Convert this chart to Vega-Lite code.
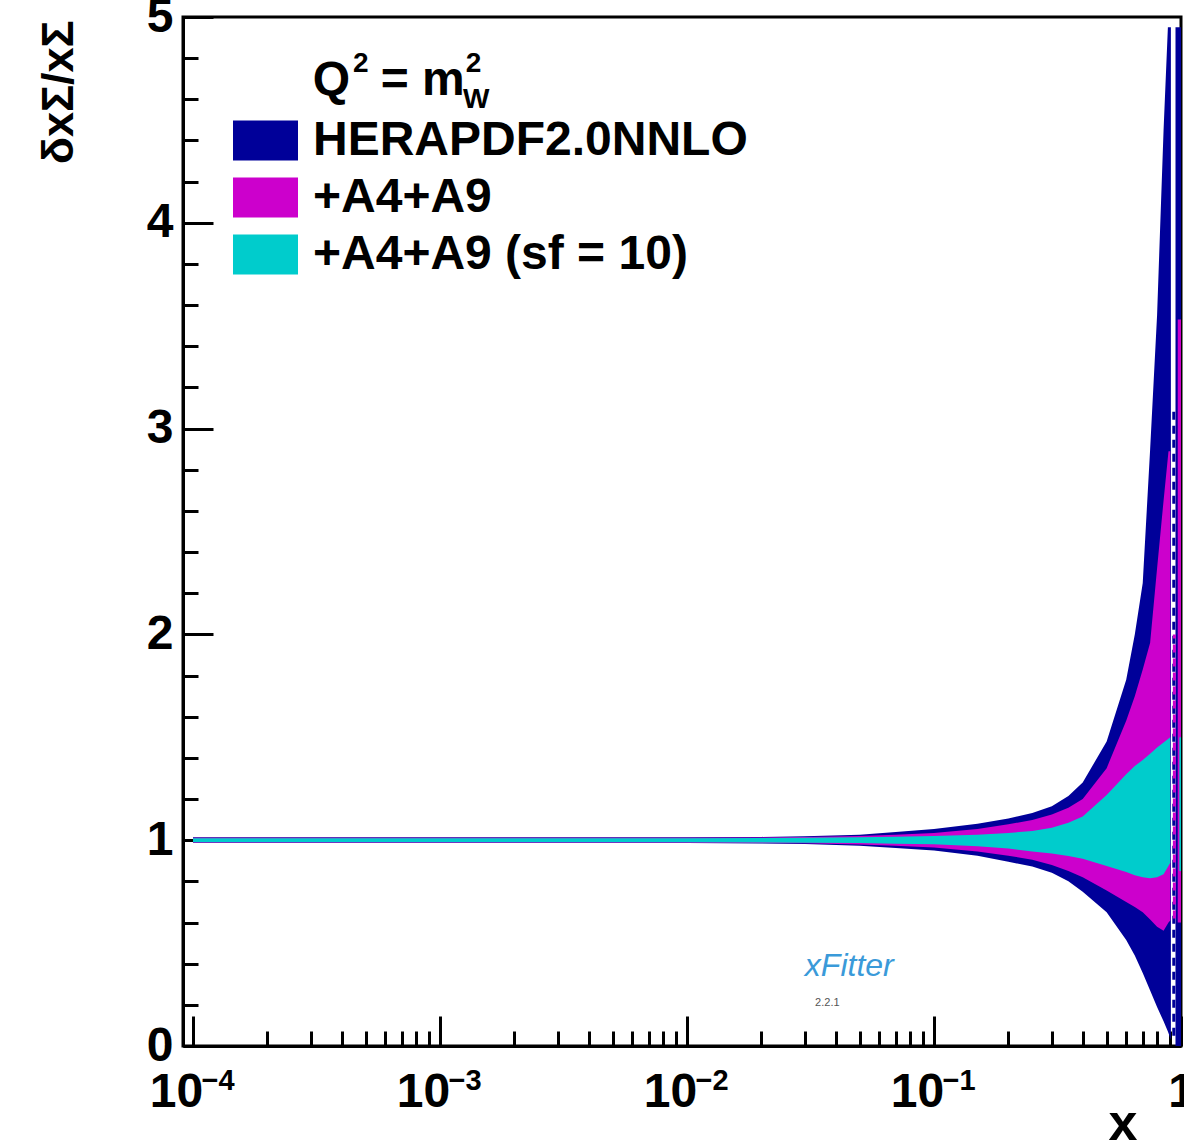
{
  "$schema": "https://vega.github.io/schema/vega-lite/v6.json",
  "width": 998,
  "height": 1029,
  "autosize": {"type": "none"},
  "padding": {"left": 183, "top": 17, "right": 3, "bottom": 100},
  "background": "white",
  "config": {"view": {"stroke": "black", "strokeWidth": 3}, "font": "Liberation Sans"},
  "resolve": {"axis": {"x": "independent"}},
  "datasets": {
    "bands": [
      {"s": "HERAPDF2.0NNLO", "g": 1, "x": 0.0001, "lo": 0.986, "hi": 1.014},
      {"s": "HERAPDF2.0NNLO", "g": 1, "x": 0.001, "lo": 0.986, "hi": 1.014},
      {"s": "HERAPDF2.0NNLO", "g": 1, "x": 0.01, "lo": 0.986, "hi": 1.014},
      {"s": "HERAPDF2.0NNLO", "g": 1, "x": 0.02, "lo": 0.984, "hi": 1.016},
      {"s": "HERAPDF2.0NNLO", "g": 1, "x": 0.03, "lo": 0.981, "hi": 1.019},
      {"s": "HERAPDF2.0NNLO", "g": 1, "x": 0.05, "lo": 0.973, "hi": 1.027},
      {"s": "HERAPDF2.0NNLO", "g": 1, "x": 0.07, "lo": 0.962, "hi": 1.04},
      {"s": "HERAPDF2.0NNLO", "g": 1, "x": 0.1, "lo": 0.95, "hi": 1.055},
      {"s": "HERAPDF2.0NNLO", "g": 1, "x": 0.15, "lo": 0.925, "hi": 1.08},
      {"s": "HERAPDF2.0NNLO", "g": 1, "x": 0.2, "lo": 0.895, "hi": 1.105},
      {"s": "HERAPDF2.0NNLO", "g": 1, "x": 0.25, "lo": 0.872, "hi": 1.132},
      {"s": "HERAPDF2.0NNLO", "g": 1, "x": 0.3, "lo": 0.842, "hi": 1.165},
      {"s": "HERAPDF2.0NNLO", "g": 1, "x": 0.35, "lo": 0.8, "hi": 1.215},
      {"s": "HERAPDF2.0NNLO", "g": 1, "x": 0.4, "lo": 0.75, "hi": 1.28},
      {"s": "HERAPDF2.0NNLO", "g": 1, "x": 0.5, "lo": 0.65, "hi": 1.48},
      {"s": "HERAPDF2.0NNLO", "g": 1, "x": 0.6, "lo": 0.515, "hi": 1.78},
      {"s": "HERAPDF2.0NNLO", "g": 1, "x": 0.65, "lo": 0.44, "hi": 2.0},
      {"s": "HERAPDF2.0NNLO", "g": 1, "x": 0.7, "lo": 0.355, "hi": 2.25},
      {"s": "HERAPDF2.0NNLO", "g": 1, "x": 0.75, "lo": 0.27, "hi": 2.9},
      {"s": "HERAPDF2.0NNLO", "g": 1, "x": 0.8, "lo": 0.19, "hi": 3.55},
      {"s": "HERAPDF2.0NNLO", "g": 1, "x": 0.85, "lo": 0.12, "hi": 4.45},
      {"s": "HERAPDF2.0NNLO", "g": 1, "x": 0.885, "lo": 0.07, "hi": 4.95},
      {"s": "HERAPDF2.0NNLO", "g": 1, "x": 0.91, "lo": 0.03, "hi": 4.95},
      {"s": "HERAPDF2.0NNLO", "g": 2, "x": 0.95, "lo": 0.0, "hi": 4.95},
      {"s": "HERAPDF2.0NNLO", "g": 2, "x": 1.0, "lo": 0.0, "hi": 4.95},
      {"s": "+A4+A9", "g": 1, "x": 0.0001, "lo": 0.988, "hi": 1.012},
      {"s": "+A4+A9", "g": 1, "x": 0.01, "lo": 0.988, "hi": 1.012},
      {"s": "+A4+A9", "g": 1, "x": 0.02, "lo": 0.987, "hi": 1.013},
      {"s": "+A4+A9", "g": 1, "x": 0.03, "lo": 0.985, "hi": 1.015},
      {"s": "+A4+A9", "g": 1, "x": 0.05, "lo": 0.979, "hi": 1.02},
      {"s": "+A4+A9", "g": 1, "x": 0.07, "lo": 0.973, "hi": 1.027},
      {"s": "+A4+A9", "g": 1, "x": 0.1, "lo": 0.965, "hi": 1.035},
      {"s": "+A4+A9", "g": 1, "x": 0.15, "lo": 0.945, "hi": 1.055},
      {"s": "+A4+A9", "g": 1, "x": 0.2, "lo": 0.925, "hi": 1.077},
      {"s": "+A4+A9", "g": 1, "x": 0.25, "lo": 0.905, "hi": 1.098},
      {"s": "+A4+A9", "g": 1, "x": 0.3, "lo": 0.88, "hi": 1.125},
      {"s": "+A4+A9", "g": 1, "x": 0.35, "lo": 0.85, "hi": 1.158},
      {"s": "+A4+A9", "g": 1, "x": 0.4, "lo": 0.82, "hi": 1.2},
      {"s": "+A4+A9", "g": 1, "x": 0.5, "lo": 0.755, "hi": 1.35},
      {"s": "+A4+A9", "g": 1, "x": 0.6, "lo": 0.7, "hi": 1.58},
      {"s": "+A4+A9", "g": 1, "x": 0.65, "lo": 0.675, "hi": 1.7},
      {"s": "+A4+A9", "g": 1, "x": 0.7, "lo": 0.65, "hi": 1.83},
      {"s": "+A4+A9", "g": 1, "x": 0.75, "lo": 0.615, "hi": 1.96},
      {"s": "+A4+A9", "g": 1, "x": 0.8, "lo": 0.58, "hi": 2.32},
      {"s": "+A4+A9", "g": 1, "x": 0.85, "lo": 0.56, "hi": 2.65},
      {"s": "+A4+A9", "g": 1, "x": 0.89, "lo": 0.6, "hi": 2.89},
      {"s": "+A4+A9", "g": 1, "x": 0.905, "lo": 0.61, "hi": 2.89},
      {"s": "+A4+A9", "g": 2, "x": 0.97, "lo": 0.6, "hi": 3.53},
      {"s": "+A4+A9", "g": 2, "x": 1.0, "lo": 0.6, "hi": 3.53},
      {"s": "+A4+A9 (sf = 10)", "g": 1, "x": 0.0001, "lo": 0.99, "hi": 1.01},
      {"s": "+A4+A9 (sf = 10)", "g": 1, "x": 0.01, "lo": 0.99, "hi": 1.01},
      {"s": "+A4+A9 (sf = 10)", "g": 1, "x": 0.02, "lo": 0.989, "hi": 1.011},
      {"s": "+A4+A9 (sf = 10)", "g": 1, "x": 0.03, "lo": 0.988, "hi": 1.012},
      {"s": "+A4+A9 (sf = 10)", "g": 1, "x": 0.05, "lo": 0.986, "hi": 1.014},
      {"s": "+A4+A9 (sf = 10)", "g": 1, "x": 0.07, "lo": 0.983, "hi": 1.017},
      {"s": "+A4+A9 (sf = 10)", "g": 1, "x": 0.1, "lo": 0.98, "hi": 1.02},
      {"s": "+A4+A9 (sf = 10)", "g": 1, "x": 0.15, "lo": 0.97, "hi": 1.027},
      {"s": "+A4+A9 (sf = 10)", "g": 1, "x": 0.2, "lo": 0.96, "hi": 1.035},
      {"s": "+A4+A9 (sf = 10)", "g": 1, "x": 0.25, "lo": 0.945, "hi": 1.045},
      {"s": "+A4+A9 (sf = 10)", "g": 1, "x": 0.3, "lo": 0.935, "hi": 1.06},
      {"s": "+A4+A9 (sf = 10)", "g": 1, "x": 0.35, "lo": 0.923, "hi": 1.085},
      {"s": "+A4+A9 (sf = 10)", "g": 1, "x": 0.4, "lo": 0.91, "hi": 1.115},
      {"s": "+A4+A9 (sf = 10)", "g": 1, "x": 0.5, "lo": 0.875, "hi": 1.22},
      {"s": "+A4+A9 (sf = 10)", "g": 1, "x": 0.6, "lo": 0.845, "hi": 1.32},
      {"s": "+A4+A9 (sf = 10)", "g": 1, "x": 0.65, "lo": 0.83, "hi": 1.36},
      {"s": "+A4+A9 (sf = 10)", "g": 1, "x": 0.7, "lo": 0.82, "hi": 1.39},
      {"s": "+A4+A9 (sf = 10)", "g": 1, "x": 0.75, "lo": 0.815, "hi": 1.42},
      {"s": "+A4+A9 (sf = 10)", "g": 1, "x": 0.8, "lo": 0.82, "hi": 1.45},
      {"s": "+A4+A9 (sf = 10)", "g": 1, "x": 0.85, "lo": 0.835, "hi": 1.475},
      {"s": "+A4+A9 (sf = 10)", "g": 1, "x": 0.905, "lo": 0.89, "hi": 1.5},
      {"s": "+A4+A9 (sf = 10)", "g": 2, "x": 0.985, "lo": 0.85, "hi": 1.5},
      {"s": "+A4+A9 (sf = 10)", "g": 2, "x": 1.0, "lo": 0.85, "hi": 1.5}
    ],
    "dash": [
      {"s": "HERAPDF2.0NNLO", "x": 0.935, "y": 0.05, "y2": 3.1},
      {"s": "+A4+A9", "x": 0.94, "y": 0.62, "y2": 2.0}
    ]
  },
  "layer": [
    {
      "data": {"name": "bands"},
      "transform": [{"filter": "datum.s == 'HERAPDF2.0NNLO'"}],
      "mark": {"type": "area", "clip": true, "opacity": 1},
      "encoding": {
        "x": {
          "field": "x", "type": "quantitative",
          "scale": {"type": "log", "domain": [0.0000911, 1], "nice": false},
          "axis": {
            "values": [0.0001, 0.0002, 0.0003, 0.0004, 0.0005, 0.0006, 0.0007, 0.0008, 0.0009, 0.001, 0.002, 0.003, 0.004, 0.005, 0.006, 0.007, 0.008, 0.009, 0.01, 0.02, 0.03, 0.04, 0.05, 0.06, 0.07, 0.08, 0.09, 0.1, 0.2, 0.3, 0.4, 0.5, 0.6, 0.7, 0.8, 0.9, 1],
            "labelExpr": "datum.value == 1 ? '1' : indexof([0.0001, 0.001, 0.01, 0.1], datum.value) >= 0 ? '10' : ''",
            "tickSize": {"condition": {"test": "indexof([0.0001, 0.001, 0.01, 0.1, 1], datum.value) >= 0", "value": -30}, "value": -15},
            "labelOffset": {"condition": {"test": "datum.value == 1", "value": 0}, "value": -17},
            "tickWidth": 3, "tickColor": "black", "domainWidth": 3, "domainColor": "black",
            "grid": false, "labelOverlap": false, "labelFlush": false, "labelBound": false,
            "labelFont": "Liberation Sans", "labelFontWeight": "bold", "labelFontSize": 48, "labelColor": "black",
            "labelPadding": 52, "labelBaseline": "top",
            "title": "x", "titleFont": "Liberation Sans", "titleFontWeight": "bold", "titleFontSize": 52, "titleColor": "black",
            "titleAnchor": "end", "titleAlign": "right", "titleBaseline": "alphabetic", "titleX": 954, "titleY": 93
          }
        },
        "y": {
          "field": "hi", "type": "quantitative",
          "scale": {"domain": [0, 5], "nice": false, "zero": false},
          "axis": {
            "values": [0, 0.2, 0.4, 0.6, 0.8, 1, 1.2, 1.4, 1.6, 1.8, 2, 2.2, 2.4, 2.6, 2.8, 3, 3.2, 3.4, 3.6, 3.8, 4, 4.2, 4.4, 4.6, 4.8, 5],
            "labelExpr": "datum.value % 1 == 0 ? format(datum.value, 'd') : ''",
            "tickSize": {"condition": {"test": "datum.value % 1 == 0", "value": -30}, "value": -15},
            "tickWidth": 3, "tickColor": "black", "domainWidth": 3, "domainColor": "black",
            "grid": false, "labelOverlap": false, "labelFlush": false, "labelBound": false,
            "labelFont": "Liberation Sans", "labelFontWeight": "bold", "labelFontSize": 48, "labelColor": "black",
            "labelPadding": 40, "labelBaseline": "middle",
            "title": "δxΣ/xΣ", "titleFont": "Liberation Sans", "titleFontWeight": "bold", "titleFontSize": 45, "titleColor": "black",
            "titleAnchor": "end", "titleAlign": "right", "titleBaseline": "alphabetic", "titleAngle": 270, "titleX": -111, "titleY": 3
          }
        },
        "y2": {"field": "lo"},
        "detail": {"field": "g"},
        "color": {
          "field": "s", "type": "nominal",
          "scale": {"domain": ["HERAPDF2.0NNLO", "+A4+A9", "+A4+A9 (sf = 10)"], "range": ["#000099", "#cc00cc", "#00cccc"]},
          "legend": {
            "title": null, "orient": "none", "legendX": 50, "legendY": 91,
            "symbolType": "M-1,-0.615H1V0.615H-1Z", "symbolSize": 4225, "symbolStrokeWidth": 0, "symbolOpacity": 1,
            "labelFont": "Liberation Sans", "labelFontSize": 48, "labelFontWeight": "bold", "labelColor": "black",
            "labelOffset": 15, "labelLimit": 1000, "rowPadding": 0
          }
        }
      }
    },
    {
      "data": {"name": "bands"},
      "transform": [{"filter": "datum.s == '+A4+A9'"}],
      "mark": {"type": "area", "clip": true, "opacity": 1},
      "encoding": {
        "x": {
          "field": "x", "type": "quantitative",
          "axis": {
            "orient": "top", "offset": -1072,
            "values": [0.0001, 0.001, 0.01, 0.1],
            "labelExpr": "datum.value == 0.0001 ? '−4' : datum.value == 0.001 ? '−3' : datum.value == 0.01 ? '−2' : '−1'",
            "ticks": false, "domain": false, "grid": false, "title": null,
            "labelPadding": 0, "labelAlign": "left", "labelOffset": 8, "labelBaseline": "alphabetic",
            "labelFont": "Liberation Sans", "labelFontWeight": "bold", "labelFontSize": 29, "labelColor": "black",
            "labelFlush": false, "labelOverlap": false, "labelBound": false
          }
        },
        "y": {"field": "hi", "type": "quantitative"},
        "y2": {"field": "lo"},
        "detail": {"field": "g"},
        "color": {"field": "s", "type": "nominal"}
      }
    },
    {
      "data": {"name": "bands"},
      "transform": [{"filter": "datum.s == '+A4+A9 (sf = 10)'"}],
      "mark": {"type": "area", "clip": true, "opacity": 1},
      "encoding": {
        "x": {"field": "x", "type": "quantitative", "axis": null},
        "y": {"field": "hi", "type": "quantitative"},
        "y2": {"field": "lo"},
        "detail": {"field": "g"},
        "color": {"field": "s", "type": "nominal"}
      }
    },
    {
      "data": {"name": "dash"},
      "mark": {"type": "rule", "strokeDash": [8, 6], "strokeWidth": 3, "clip": true},
      "encoding": {
        "x": {"field": "x", "type": "quantitative", "axis": null},
        "y": {"field": "y", "type": "quantitative"},
        "y2": {"field": "y2"},
        "color": {"field": "s", "type": "nominal"}
      }
    },
    {
      "data": {"values": [{}]},
      "mark": {"type": "text", "font": "Liberation Sans", "fontWeight": "bold", "fontSize": 48, "align": "left", "baseline": "alphabetic", "color": "black"},
      "encoding": {"x": {"datum": 0.0003056, "axis": null}, "y": {"datum": 4.621}, "text": {"value": "Q"}}
    },
    {
      "data": {"values": [{}]},
      "mark": {"type": "text", "font": "Liberation Sans", "fontWeight": "bold", "fontSize": 28, "align": "left", "baseline": "alphabetic", "color": "black"},
      "encoding": {"x": {"datum": 0.000444, "axis": null}, "y": {"datum": 4.733}, "text": {"value": "2"}}
    },
    {
      "data": {"values": [{}]},
      "mark": {"type": "text", "font": "Liberation Sans", "fontWeight": "bold", "fontSize": 48, "align": "left", "baseline": "alphabetic", "color": "black"},
      "encoding": {"x": {"datum": 0.000575, "axis": null}, "y": {"datum": 4.621}, "text": {"value": "= m"}}
    },
    {
      "data": {"values": [{}]},
      "mark": {"type": "text", "font": "Liberation Sans", "fontWeight": "bold", "fontSize": 28, "align": "left", "baseline": "alphabetic", "color": "black"},
      "encoding": {"x": {"datum": 0.00127, "axis": null}, "y": {"datum": 4.733}, "text": {"value": "2"}}
    },
    {
      "data": {"values": [{}]},
      "mark": {"type": "text", "font": "Liberation Sans", "fontWeight": "bold", "fontSize": 28, "align": "left", "baseline": "alphabetic", "color": "black"},
      "encoding": {"x": {"datum": 0.00124, "axis": null}, "y": {"datum": 4.558}, "text": {"value": "W"}}
    },
    {
      "data": {"values": [{}]},
      "mark": {"type": "text", "font": "Liberation Sans", "fontStyle": "italic", "fontSize": 32, "align": "center", "baseline": "middle", "color": "#3a9ad9"},
      "encoding": {"x": {"datum": 0.0454, "axis": null}, "y": {"datum": 0.39}, "text": {"value": "xFitter"}}
    },
    {
      "data": {"values": [{}]},
      "mark": {"type": "text", "font": "Liberation Sans", "fontSize": 11, "align": "center", "baseline": "middle", "color": "#555555"},
      "encoding": {"x": {"datum": 0.037, "axis": null}, "y": {"datum": 0.21}, "text": {"value": "2.2.1"}}
    }
  ]
}
